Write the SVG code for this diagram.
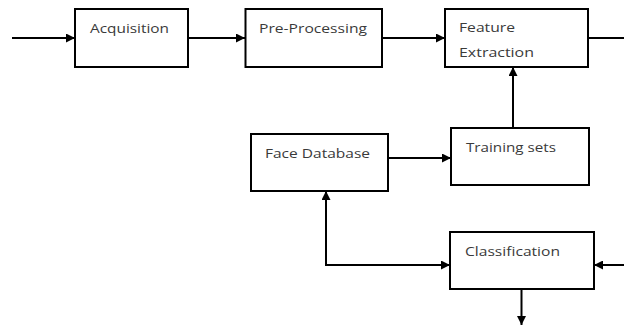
<svg xmlns="http://www.w3.org/2000/svg" width="624" height="327" viewBox="0 0 624 327">
  <style>
    .box { fill: #fff; stroke: #000; stroke-width: 2; }
    .lbl { font-family: "Open Sans", "Liberation Sans", sans-serif; font-size: 13.5px; fill: #3a3a3a; }
    .wire { fill: none; stroke: #000; stroke-width: 2; }
  </style>
  <defs>
    <marker id="arrow" viewBox="0 0 10 10" refX="10" refY="5" markerWidth="4.5" markerHeight="4.5" orient="auto" markerUnits="strokeWidth">
      <path d="M0,0 L10,5 L0,10 Z" fill="#000"/>
    </marker>
  </defs>
  <rect width="624" height="327" fill="#fff"/>

  <g id="connectors">
    <line class="wire" x1="12" y1="38" x2="75" y2="38" marker-end="url(#arrow)"/>
    <line class="wire" x1="188" y1="38" x2="245" y2="38" marker-end="url(#arrow)"/>
    <line class="wire" x1="382" y1="38" x2="445" y2="38" marker-end="url(#arrow)"/>
    <line class="wire" x1="588" y1="38" x2="624" y2="38"/>
    <line class="wire" x1="513" y1="128" x2="513" y2="67" marker-end="url(#arrow)"/>
    <line class="wire" x1="388" y1="158" x2="451" y2="158" marker-end="url(#arrow)"/>
    <polyline class="wire" points="450,265 326,265 326,191" marker-end="url(#arrow)"/>
    <line class="wire" x1="326" y1="265" x2="450" y2="265" marker-end="url(#arrow)"/>
    <line class="wire" x1="624" y1="265" x2="594" y2="265" marker-end="url(#arrow)"/>
    <line class="wire" x1="521.5" y1="289" x2="521.5" y2="325" marker-end="url(#arrow)"/>
  </g>

  <g id="acquisition">
    <rect class="box" x="75" y="9" width="113" height="58"/>
    <text class="lbl" x="90" y="33" textLength="79" lengthAdjust="spacingAndGlyphs">Acquisition</text>
  </g>
  <g id="pre-processing">
    <rect class="box" x="245.5" y="9" width="136.5" height="58"/>
    <text class="lbl" x="259" y="33" textLength="108" lengthAdjust="spacingAndGlyphs">Pre-Processing</text>
  </g>
  <g id="feature-extraction">
    <rect class="box" x="445" y="9" width="143" height="58"/>
    <text class="lbl" x="459" y="32" textLength="56" lengthAdjust="spacingAndGlyphs">Feature</text>
    <text class="lbl" x="459" y="57" textLength="75" lengthAdjust="spacingAndGlyphs">Extraction</text>
  </g>
  <g id="face-database">
    <rect class="box" x="251" y="134" width="137" height="57"/>
    <text class="lbl" x="265" y="158" textLength="105" lengthAdjust="spacingAndGlyphs">Face Database</text>
  </g>
  <g id="training-sets">
    <rect class="box" x="451" y="128" width="138" height="57"/>
    <text class="lbl" x="466" y="152" textLength="90" lengthAdjust="spacingAndGlyphs">Training sets</text>
  </g>
  <g id="classification">
    <rect class="box" x="450" y="232" width="144" height="57"/>
    <text class="lbl" x="465" y="256" textLength="95" lengthAdjust="spacingAndGlyphs">Classification</text>
  </g>
</svg>
